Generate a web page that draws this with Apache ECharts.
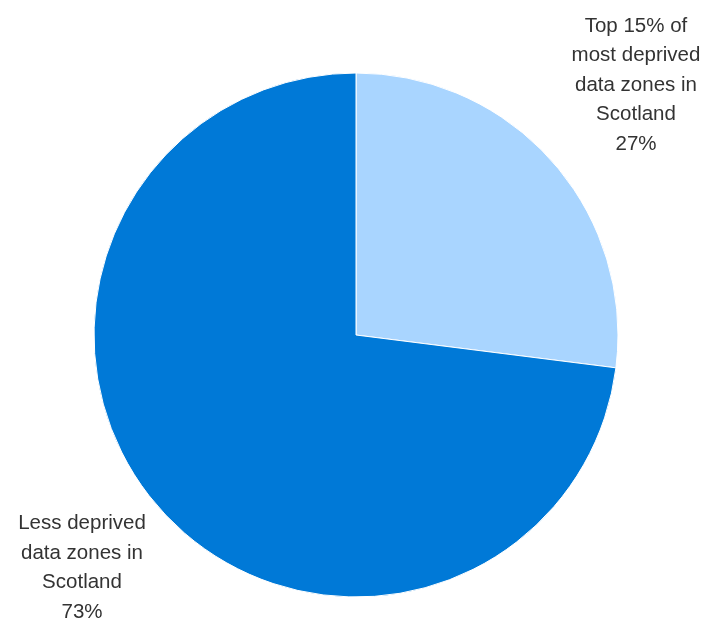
<!DOCTYPE html>
<html><head><meta charset="utf-8">
<script src="https://cdn.jsdelivr.net/npm/echarts@6/dist/echarts.min.js"></script>
<style>html,body{margin:0;padding:0;background:#fff}#c{width:706px;height:620px}</style>
</head><body><div id="c"></div>
<script>
const categories = ["Top 15% of\nmost deprived\ndata zones in\nScotland", "Less deprived\ndata zones in\nScotland"];
const values = [27, 73];
const colors = ["#A9D5FF", "#0079D7"];
const labelAnchors = [[636, 85], [82, 568]];

const chart = echarts.init(document.getElementById('c'), null, {renderer: 'canvas'});
chart.setOption({
  animation: false,
  series: [{
    type: 'pie',
    center: [356, 335],
    radius: [0, 262],
    startAngle: 90,
    clockwise: true,
    data: categories.map((n, i) => ({name: n, value: values[i], itemStyle: {color: colors[i]}})),
    itemStyle: {borderColor: '#ffffff', borderWidth: 1},
    label: {
      show: true,
      position: 'outside',
      formatter: '{b}\n{d}%',
      fontFamily: 'Liberation Sans, Arial, sans-serif',
      fontSize: 20.5,
      lineHeight: 29.5,
      color: '#333333',
      align: 'center',
      width: 300,
      overflow: 'none'
    },
    labelLine: {show: false},
    labelLayout: function (p) {
      const a = labelAnchors[p.dataIndex];
      return {x: a[0], y: a[1], align: 'center', verticalAlign: 'middle', width: 300};
    }
  }]
});
</script></body></html>
